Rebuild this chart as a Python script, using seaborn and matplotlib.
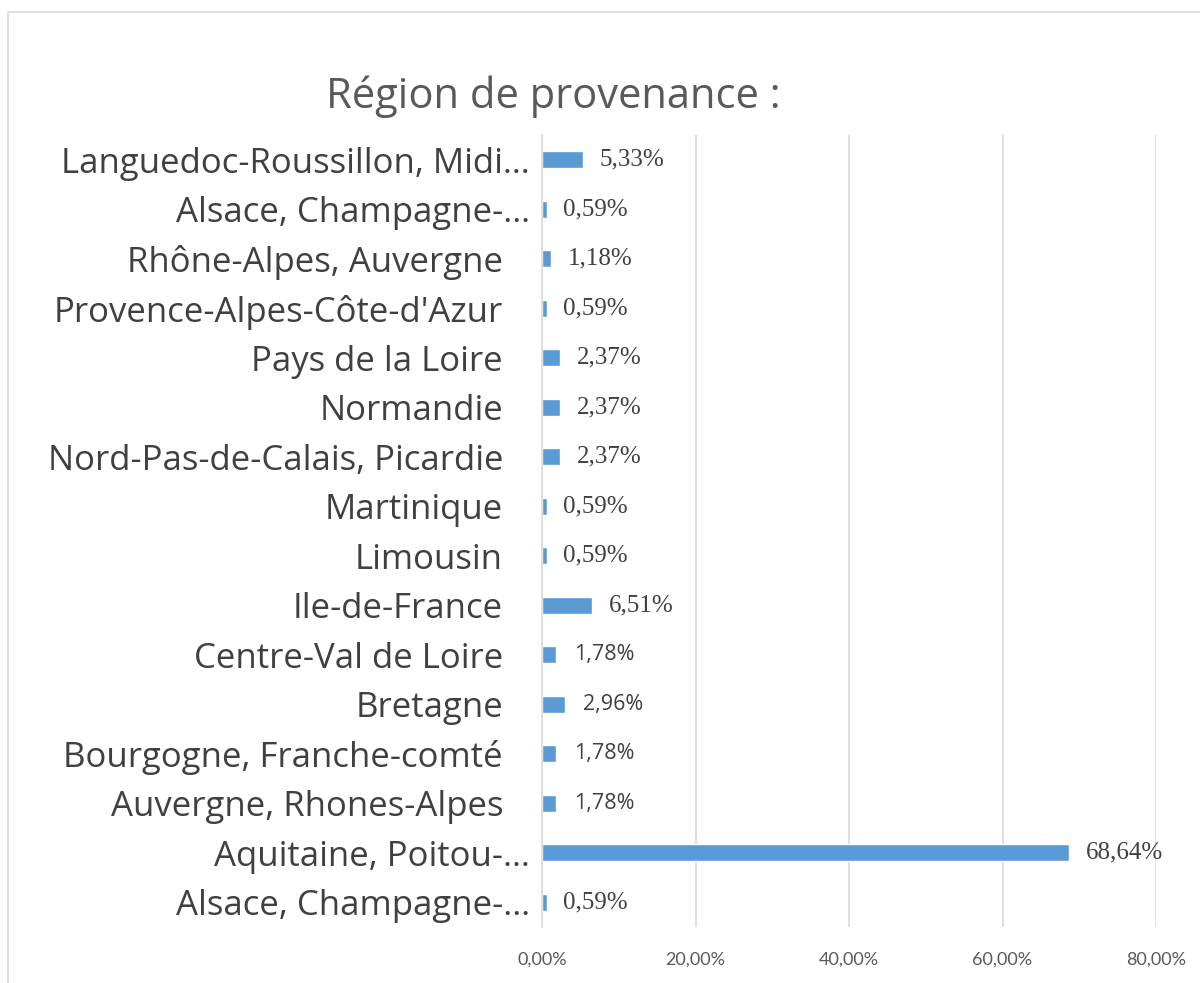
import matplotlib
matplotlib.use("Agg")
import matplotlib.pyplot as plt
import matplotlib.transforms as mtransforms
import seaborn as sns
import pandas as pd
from matplotlib.patches import Rectangle

regions = [
    "Languedoc-Roussillon, Midi…",
    "Alsace, Champagne-…",
    "Rhône-Alpes, Auvergne",
    "Provence-Alpes-Côte-d'Azur",
    "Pays de la Loire",
    "Normandie",
    "Nord-Pas-de-Calais, Picardie",
    "Martinique",
    "Limousin",
    "Ile-de-France",
    "Centre-Val de Loire",
    "Bretagne",
    "Bourgogne, Franche-comté",
    "Auvergne, Rhones-Alpes",
    "Aquitaine, Poitou-…",
    "Alsace, Champagne-…",
]
values = [5.33, 0.59, 1.18, 0.59, 2.37, 2.37, 2.37, 0.59, 0.59, 6.51, 1.78, 2.96, 1.78, 1.78, 68.64, 0.59]
sans_labels = [False, False, False, False, False, False, False, False, False, False, True, True, True, True, False, False]
xticks = [0, 20, 40, 60, 80]

df = pd.DataFrame({"pos": [f"{i}" for i in range(len(regions))], "value": values})

sns.set_style("white")
plt.rcParams['font.family'] = ['Open Sans', 'DejaVu Sans']

fig = plt.figure(figsize=(12, 9.83), dpi=100)
ax = fig.add_axes([542/1200, 1 - 927/983, (1156-542)/1200, (927-135)/983])

sns.barplot(data=df, x="value", y="pos", orient="h", color="#5B9BD5", saturation=1,
            width=0.35, ax=ax, order=df["pos"].tolist())

ax.set_xlim(0, 80)
ax.set_xticks(xticks)
ax.set_xticklabels([f"{t},00%" for t in xticks], color="#595959", fontsize=13,
                   family=["Lato", "DejaVu Sans"])
ax.set_yticks(range(len(regions)))
ax.set_yticklabels(regions, color="#404040", fontsize=25)
ax.tick_params(axis="both", length=0)
ax.tick_params(axis="y", pad=28)
ax.tick_params(axis="x", pad=18)
ax.set_xlabel("")
ax.set_ylabel("")
ax.grid(axis="x", color="#D9D9D9", linewidth=1.2)
ax.set_axisbelow(True)
for s in ["top", "right", "bottom"]:
    ax.spines[s].set_visible(False)
ax.spines["left"].set_color("#D9D9D9")
ax.spines["left"].set_linewidth(1.2)

# truncated labels (with ellipsis) sit slightly further right, as in the original
shift = mtransforms.ScaledTranslation(0.27, 0, fig.dpi_scale_trans)
for lbl in ax.get_yticklabels():
    if lbl.get_text().endswith("…"):
        lbl.set_transform(lbl.get_transform() + shift)

for i, (v, sans) in enumerate(zip(values, sans_labels)):
    lab = f"{v:.2f}".replace(".", ",") + "%"
    if sans:
        ax.text(v + 2.4, i, lab, va="center", ha="left", fontsize=15.5, color="#404040",
                family=["Open Sans", "DejaVu Sans"])
    else:
        ax.text(v + 2.2, i, lab, va="center", ha="left", fontsize=18, color="#404040",
                family=["Liberation Serif", "DejaVu Serif"])

fig.text(553/1200, 1 - 97/983, "Région de provenance :", ha="center", va="center",
         fontsize=30, color="#595959")

fig.patches.append(Rectangle((8/1200, -0.1), 1.2, 1 - 12/983 + 0.1, transform=fig.transFigure,
                             fill=False, edgecolor="#D9D9D9", linewidth=1.2, zorder=-1))

fig.savefig("out.png", dpi=100, facecolor="white")
